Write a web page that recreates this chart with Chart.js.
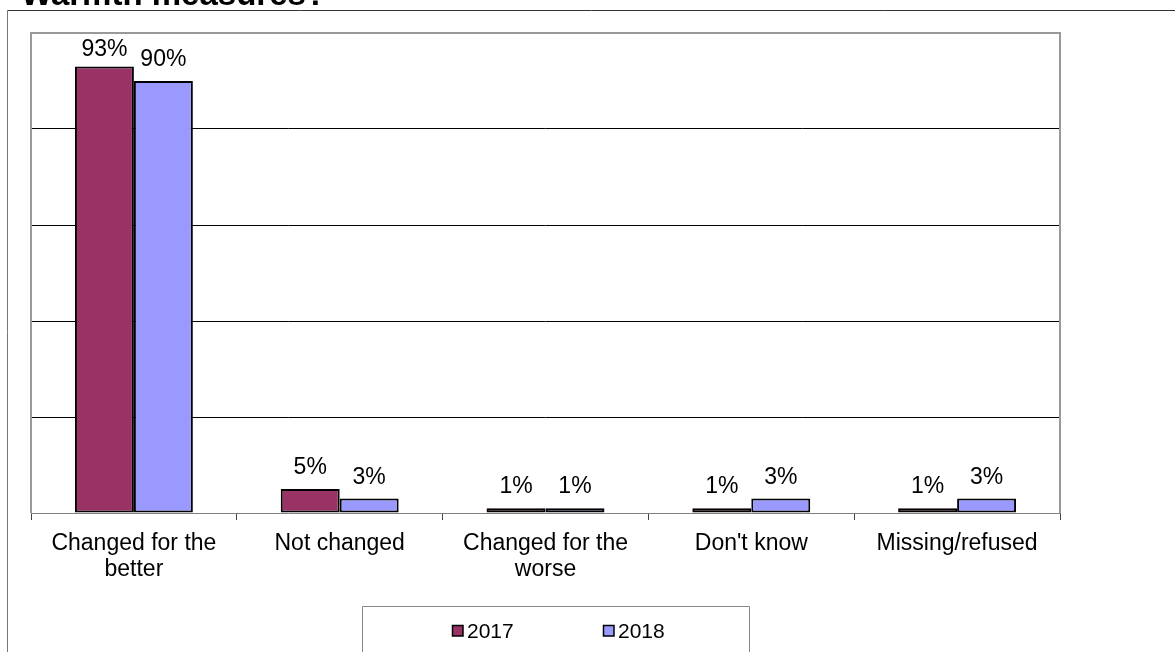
<!DOCTYPE html>
<html>
<head>
<meta charset="utf-8">
<script src="https://cdn.jsdelivr.net/npm/chart.js@4/dist/chart.umd.min.js"></script>
<style>
  html, body { margin: 0; padding: 0; background: #fff; overflow: hidden; }
  #wrap { position: relative; width: 1175px; height: 652px; }
</style>
</head>
<body>
<div id="wrap"><canvas id="myChart" width="1175" height="652"></canvas></div>
<script>
var titulo = 'Warmth measures?'
var categorias = [['Changed for the', 'better'], 'Not changed', ['Changed for the', 'worse'], "Don't know", 'Missing/refused']
var anos = ['2017', '2018']
var valores2017 = [93, 5, 1, 1, 1]
var valores2018 = [90, 3, 1, 3, 3]
var cores = ['#993366', '#9999ff']

var fonte = "'Liberation Sans', Arial, sans-serif"

// frame, title, value labels and legend drawn around the plot
var moldura = {
    id: 'moldura',
    beforeDatasetsDraw(chart) {
        var c = chart.ctx
        var a = chart.chartArea
        c.save()
        c.strokeStyle = '#999'
        c.lineWidth = 2
        c.beginPath()
        c.moveTo(a.left, a.bottom)
        c.lineTo(a.left, a.top)
        c.lineTo(a.right, a.top)
        c.lineTo(a.right, a.bottom)
        c.stroke()
        c.restore()
    },
    afterDraw(chart) {
        var c = chart.ctx
        var a = chart.chartArea
        c.save()
        // outer border
        c.lineWidth = 1
        c.strokeStyle = '#333'
        c.beginPath()
        c.moveTo(7.5, 10.5)
        c.lineTo(1175, 10.5)
        c.stroke()
        c.strokeStyle = '#777'
        c.beginPath()
        c.moveTo(7.5, 10.5)
        c.lineTo(7.5, 652)
        c.stroke()

        // title (clipped at the top)
        c.fillStyle = '#000'
        c.font = 'bold 33px ' + fonte
        c.textAlign = 'left'
        c.textBaseline = 'alphabetic'
        c.fillText(titulo, 21, 5)

        // value labels above the bars
        c.font = '23px ' + fonte
        c.textAlign = 'center'
        chart.data.datasets.forEach(function (ds, i) {
            var meta = chart.getDatasetMeta(i)
            meta.data.forEach(function (bar, j) {
                var y = Math.max(bar.y - 15, a.top + 23)
                c.fillText(ds.data[j] + '%', bar.x, y)
            })
        })

        // legend box
        c.strokeStyle = '#888'
        c.lineWidth = 1
        c.beginPath()
        c.moveTo(362.5, 660)
        c.lineTo(362.5, 606.5)
        c.lineTo(749.5, 606.5)
        c.lineTo(749.5, 660)
        c.stroke()
        var posX = [452, 603]
        c.font = '21px ' + fonte
        c.textAlign = 'left'
        anos.forEach(function (ano, i) {
            c.fillStyle = cores[i]
            c.fillRect(posX[i], 625, 11, 11)
            c.strokeStyle = '#000'
            c.lineWidth = 1.5
            c.strokeRect(posX[i] + 0.5, 625.5, 10.5, 10.5)
            c.fillStyle = '#000'
            c.fillText(ano, posX[i] + 15, 638)
        })
        c.restore()
    }
}

const ctx = document.getElementById('myChart').getContext('2d')
const myChart = new Chart(ctx, {
    type: 'bar',
    data: {
        labels: categorias,
        datasets: [{
            label: anos[0],
            data: valores2017,
            backgroundColor: cores[0],
            borderColor: '#000',
            borderWidth: 2,
            borderSkipped: false
        },
        {
            label: anos[1],
            data: valores2018,
            backgroundColor: cores[1],
            borderColor: '#000',
            borderWidth: 2,
            borderSkipped: false
        }]
    },
    options: {
        responsive: false,
        animation: false,
        devicePixelRatio: 1,
        categoryPercentage: 0.573,
        barPercentage: 1.0,
        layout: { padding: { left: 31, right: 115, top: 33, bottom: 0 } },
        plugins: {
            legend: { display: false },
            tooltip: { enabled: false }
        },
        scales: {
            x: {
                afterFit: function (s) { s.height = 139 },
                grid: {
                    offset: true,
                    drawOnChartArea: false,
                    drawTicks: true,
                    tickLength: 7,
                    color: '#444'
                },
                border: { display: true, color: '#808080', width: 1 },
                ticks: {
                    color: '#000',
                    font: { family: fonte, size: 23, lineHeight: 1.16 },
                    padding: 10,
                    maxRotation: 0,
                    autoSkip: false
                }
            },
            y: {
                min: 0,
                max: 100,
                afterFit: function (s) { s.width = 0 },
                ticks: { display: false, stepSize: 20 },
                border: { display: false },
                grid: {
                    drawTicks: false,
                    lineWidth: 1,
                    color: function (c) {
                        return (c.tick.value === 0 || c.tick.value === 100) ? 'rgba(0,0,0,0)' : '#000'
                    }
                }
            }
        }
    },
    plugins: [moldura]
})
</script>
</body>
</html>
